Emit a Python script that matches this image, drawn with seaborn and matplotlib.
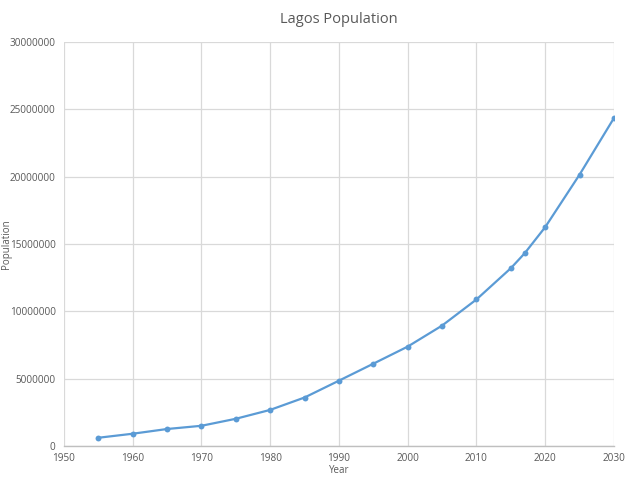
import pandas as pd
import matplotlib
matplotlib.use("Agg")
import matplotlib.pyplot as plt
import seaborn as sns

years = [1955, 1960, 1965, 1970, 1975, 1980, 1985, 1990, 1995, 2000,
         2005, 2010, 2015, 2017, 2020, 2025, 2030]
population = [610000, 910000, 1260000, 1500000, 2020000, 2680000, 3600000,
              4850000, 6110000, 7380000, 8940000, 10880000, 13200000,
              14300000, 16250000, 20150000, 24350000]
x_ticks = [1950, 1960, 1970, 1980, 1990, 2000, 2010, 2020, 2030]
y_ticks = [0, 5000000, 10000000, 15000000, 20000000, 25000000, 30000000]

df = pd.DataFrame({"Year": years, "Population": population})

sns.set_theme(style="white")
plt.rcParams["font.family"] = ["Open Sans", "DejaVu Sans"]

fig = plt.figure(figsize=(6.29, 4.78), dpi=100)
ax = fig.add_axes([0.1017, 0.067, 0.8743, 0.845])

blue = "#5b9bd5"
sns.lineplot(data=df, x="Year", y="Population", color=blue, linewidth=1.6, ax=ax)
sns.scatterplot(data=df, x="Year", y="Population", color=blue, s=18,
                edgecolor=blue, linewidth=0, ax=ax, zorder=3)

ax.set_xlim(1950, 2030)
ax.set_ylim(0, 30000000)
ax.set_xticks(x_ticks)
ax.set_yticks(y_ticks)
ax.set_xticklabels([str(t) for t in x_ticks])
ax.set_yticklabels([str(t) for t in y_ticks])
ax.tick_params(axis="x", length=0, labelsize=7.2, colors="#595959", pad=5)
ax.tick_params(axis="y", length=0, labelsize=7.2, colors="#595959", pad=6)

ax.grid(True, color="#d9d9d9", linewidth=0.9)
ax.set_axisbelow(True)
for side in ["top", "right", "left"]:
    ax.spines[side].set_visible(False)
ax.spines["bottom"].set_color("#bfbfbf")
ax.spines["bottom"].set_linewidth(1)

ax.set_xlabel("Year", fontsize=7, color="#595959")
ax.xaxis.set_label_coords(0.5, -0.048)
ax.set_ylabel("Population", fontsize=7, color="#595959")
ax.yaxis.set_label_coords(-0.094, 0.5)
ax.set_title("Lagos Population", fontsize=10.5, color="#595959", pad=14)

fig.savefig("out.png", dpi=100)
